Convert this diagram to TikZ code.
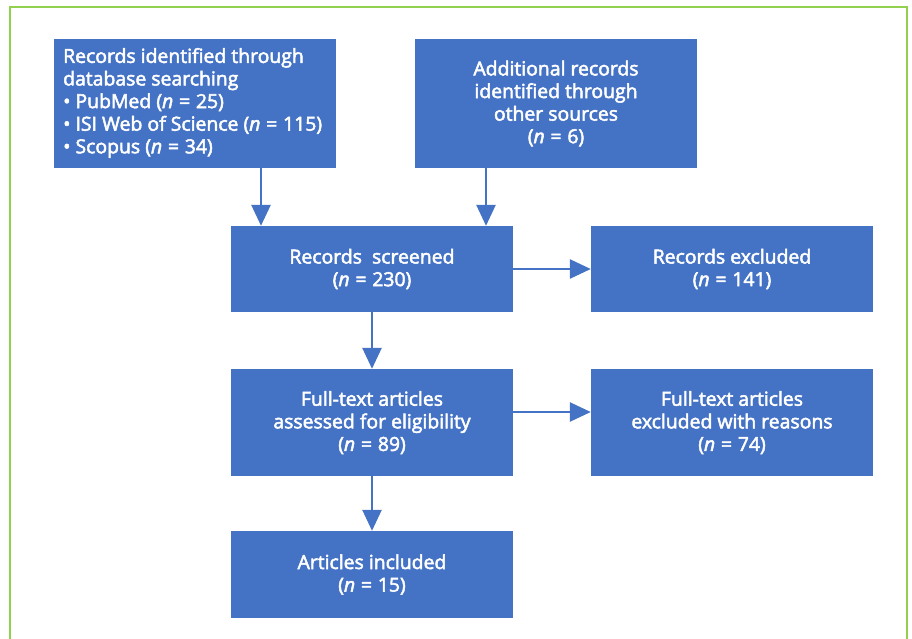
\documentclass[tikz,border=0pt]{standalone}
\usepackage{fontspec}
\setmainfont{Open Sans}
\usetikzlibrary{arrows.meta}
\definecolor{boxblue}{HTML}{4472C4}
\definecolor{framegreen}{HTML}{92D050}
\newcommand{\myeq}{\hspace{0.3em}=\hspace{0.3em}}
\newcommand{\heavier}{\special{pdf:literal direct 2 Tr 0.5 w}}
\tikzset{
  box/.style={fill=boxblue, text=white, inner sep=0pt, align=center,
    font=\fontsize{19.4}{22.6}\selectfont\heavier},
  flow/.style={draw=boxblue, line width=2.6pt,
    -{Triangle[width=19pt,length=21pt]}},
}
\begin{document}
\begin{tikzpicture}[x=1pt,y=-1pt]
\useasboundingbox (0,0) rectangle (912,638);
\draw[framegreen, line width=1.5pt] (10,640) -- (10,7) -- (907,7) -- (907,640);

\node[box, minimum width=282pt, minimum height=129pt] (b1) at (195,103.5) {};
\node[anchor=west, text=white, inner sep=0pt, align=left,
  font=\fontsize{19.4}{22.6}\selectfont\heavier] (t1) at (63,103) {Records identified through\\database searching\\\textbullet{} PubMed (\textit{n}\myeq 25)\\\textbullet{} ISI Web of Science (\textit{n}\myeq 115)\\\textbullet{} Scopus (\textit{n}\myeq 34)};

\node[box, minimum width=282pt, minimum height=129pt] (b2) at (556,103.5) {Additional records\\identified through\\other sources\\(\textit{n}\myeq 6)};

\node[box, minimum width=282pt, minimum height=86pt] (b3) at (372,269) {Records\ \ screened\\(\textit{n}\myeq 230)};
\node[box, minimum width=282pt, minimum height=86pt] (b4) at (732,269) {Records excluded\\(\textit{n}\myeq 141)};

\node[box, minimum width=282pt, minimum height=107pt] (b5) at (372,422.5) {Full-text articles\\assessed for eligibility\\(\textit{n}\myeq 89)};
\node[box, minimum width=282pt, minimum height=107pt] (b6) at (732,422.5) {Full-text articles\\excluded with reasons\\(\textit{n}\myeq 74)};

\node[box, minimum width=282pt, minimum height=87pt] (b7) at (372,574.5) {Articles included\\(\textit{n}\myeq 15)};

\draw[flow] ([xshift=66pt]b1.south) -- ([xshift=-111pt]b3.north);
\draw[flow] ([xshift=-70pt]b2.south) -- ([xshift=114pt]b3.north);
\draw[flow] (b3.east) -- (b4.west);
\draw[flow] (b3.south) -- (b5.north);
\draw[flow] ([yshift=10.5pt]b5.east) -- ([yshift=10.5pt]b6.west);
\draw[flow] (b5.south) -- (b7.north);
\end{tikzpicture}
\end{document}
